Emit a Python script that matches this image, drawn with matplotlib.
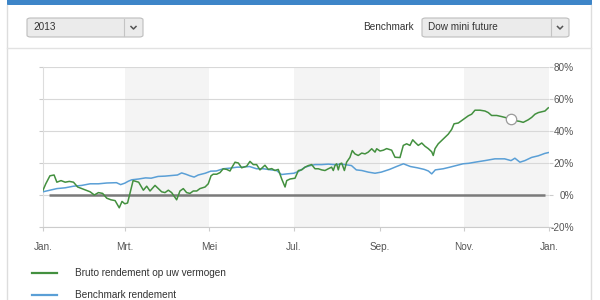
import matplotlib
matplotlib.use("Agg")
import matplotlib.pyplot as plt
from matplotlib.patches import FancyBboxPatch, Rectangle
from matplotlib.lines import Line2D

plt.rcParams['font.family'] = ['Liberation Sans', 'DejaVu Sans']

# ---- data (day of year 2013, return in %) ----
green_days = [0, 2, 5, 8, 10, 13, 16, 19, 22, 25, 28, 31, 34, 37, 40, 43, 46, 49, 52, 55, 57, 59, 61,
              63, 65, 69, 72.4, 74.8, 77.2, 80.8, 83.2, 85.6, 88, 90.4, 92.8, 96.4, 98.8, 101.2, 103.6,
              106, 108.4, 110.9, 113.2, 116.9, 119.2, 121.2, 122.8, 125.3, 127.7, 130, 132.5, 134.9,
              136.1, 138.5, 140.9, 143.3, 146.9, 149.3, 151.7, 154.1, 156.5, 158.9, 160.1, 162.5, 165,
              167.3, 169.7, 172.2, 174.6, 175.8, 178.2, 181.8, 184.2, 186.6, 189, 191.4, 193.8, 196.2,
              198.6, 201, 203.4, 205.8, 208.2, 209.4, 210.6, 211.8, 213, 214.2, 215.5, 217.4, 219,
              221.4, 223.1, 225, 227.4, 229.9, 232.3, 234.6, 237.1, 239.5, 240.7, 243.1, 245.5, 247.9,
              251.5, 253.9, 257.5, 259.9, 262.3, 264.7, 266.7, 268.3, 270.7, 273.2, 275.5, 277.9,
              280.4, 281.5, 282.8, 285.1, 288.7, 292.3, 294.8, 296.5, 299.6, 302, 304.4, 306.8, 309.2,
              311.6, 315.2, 318.8, 321.2, 323.6, 327.3, 330.9, 334.5, 337.6, 340.4, 344, 346.4, 350,
              352.5, 354.9, 357.3, 359.7, 362.1, 364.5]
green_vals = [3, 7, 12, 12.5, 8, 9, 8, 8.5, 8, 5, 4, 3, 2, 0, 1.5, 1, -2, -3, -3.5, -8, -4, -5.5, -5,
              2, 9, 8, 3, 5.5, 2.5, 6, 4, 2, 1.5, 3, 1.5, -3, 2.5, 4, 1.5,
              1, 2.5, 2.5, 4, 5, 7, 12, 13, 13, 14, 16.4, 16, 15,
              17, 20.5, 20, 17, 18, 21, 19, 19, 15.7, 17.6, 18.6, 16, 16.5,
              15.3, 16, 10, 5, 9, 10, 10.5, 15.3, 15.7, 17.4, 18.4, 19, 16.4,
              16.4, 15.7, 15.3, 16.4, 17.4, 15.3, 18.4, 19.5, 15.7, 19.5, 19.9, 15.3, 20.5,
              23.5, 27.8, 25.7, 24.7, 26.2, 25.7, 26.8, 28.9, 26.8, 28.9, 27.5, 28, 29,
              28, 23.6, 23.4, 31, 32, 31, 34.5, 33, 31, 32.5, 30.5, 29,
              27, 24.7, 29, 32, 35, 38, 41, 44.5, 45, 46.5, 48, 49.5, 50.5,
              53, 53, 52.5, 51.5, 49.7, 49.7, 49, 48.2, 47.6, 46.5, 46, 45.4, 47,
              48.5, 50.5, 51.5, 52, 52.5, 54.5]

blue_days = [0, 5, 10, 16, 22, 28, 34, 40, 46, 53, 56, 59, 61.5, 64, 69, 74, 78, 83, 88, 93, 97, 100,
             103, 106, 109, 112, 117, 121, 125, 130, 135, 140, 143, 149, 154, 159, 163.7, 168.5, 172,
             176, 181, 185, 189, 193, 196.2, 201, 205.8, 210, 215.5, 222.5, 226, 230, 234.6, 239.5,
             244, 250, 255, 260, 265, 270, 275, 278, 280.4, 283, 288.7, 293.5, 298, 303, 307, 311.6,
             318.8, 326, 333, 337.6, 340.4, 344, 347.6, 352.5, 357.3, 362, 364.5]
blue_vals = [2, 3, 4, 4.5, 5.5, 6, 7, 7, 7.5, 7.7, 6.5, 7.4, 8.6, 9.5, 10, 10.7, 10.5, 11.6, 11.8, 12.2,
             12.5, 13.8, 13, 12, 11.2, 12.5, 13.6, 14.9, 15, 16.4, 16.8, 17.4, 17.4, 17.8, 16.4, 16.4,
             15.8, 15.3, 12.8, 13.2, 13.6, 15, 17.4, 18.4, 19, 19, 19.3, 19, 19.3, 18.4, 15.7, 15.3,
             14.3, 13.6, 14.3, 16, 17.8, 19.5, 17.8, 17, 16, 15, 13.2, 15.7, 16.4, 17.4, 18.4, 19.5,
             19.8, 20.5, 21.5, 22.6, 22.6, 21.5, 23, 20.5, 21.5, 23.5, 24.5, 26, 26.5]

hover_day = 337.6
hover_val = 47.6

month_days = [0, 59, 120, 181, 243, 304, 365]
month_labels = ['Jan.', 'Mrt.', 'Mei', 'Jul.', 'Sep.', 'Nov.', 'Jan.']
shade_ranges = [(59, 120), (181, 243), (304, 365)]
y_ticks = [-20, 0, 20, 40, 60, 80]
y_labels = ['-20%', '0%', '20%', '40%', '60%', '80%']

legend_labels = ['Bruto rendement op uw vermogen', 'Benchmark rendement']
year_text = '2013'
bench_label = 'Benchmark'
bench_text = 'Dow mini future'

GREEN = '#43903f'
BLUE = '#5a9fd6'

W, H = 600, 300
fig = plt.figure(figsize=(6, 3), dpi=100)
fig.patch.set_facecolor('white')

def fx(px):
    return px / W

def fy(py):
    return 1 - py / H

# header bar and panel borders
fig.patches.append(Rectangle((fx(7), fy(5)), fx(585), 5 / H, transform=fig.transFigure,
                             facecolor='#3d85c8', edgecolor='none'))
fig.add_artist(Line2D([fx(7), fx(7)], [fy(5), 0], color='#dddddd', lw=1))
fig.add_artist(Line2D([fx(591), fx(591)], [fy(5), 0], color='#dddddd', lw=1))
fig.add_artist(Line2D([fx(7), fx(591)], [fy(48), fy(48)], color='#e2e2e2', lw=1))

def dropdown(x0, x1, xdiv, text):
    y0, y1 = 18, 37
    box = FancyBboxPatch((fx(x0), fy(y1)), fx(x1 - x0), (y1 - y0) / H,
                         boxstyle='round,pad=0,rounding_size=0.006', transform=fig.transFigure,
                         facecolor='#ebebeb', edgecolor='#bdbdbd', lw=0.8)
    fig.patches.append(box)
    fig.add_artist(Line2D([fx(xdiv), fx(xdiv)], [fy(y0 + 1), fy(y1 - 1)], color='#c4c4c4', lw=0.8))
    cx = (xdiv + x1) / 2
    fig.add_artist(Line2D([fx(cx - 2.5), fx(cx), fx(cx + 2.5)], [fy(26.5), fy(29), fy(26.5)],
                          color='#555555', lw=1.1))
    fig.text(fx(x0 + 6), fy(27.5), text, fontsize=7.2, color='#333333', va='center', ha='left')

dropdown(27, 143, 124, year_text)
fig.text(fx(363), fy(27), bench_label, fontsize=7.2, color='#333333', va='center', ha='left')
dropdown(422, 569, 551, bench_text)

# main chart
ax = fig.add_axes([fx(43), fy(227), fx(549 - 43), (227 - 67) / H])
ax.set_xlim(0, 365)
ax.set_ylim(-20, 80)
for a, b in shade_ranges:
    ax.axvspan(a, b, color='#f4f4f4', lw=0, zorder=0)
ax.set_yticks(y_ticks)
ax.set_yticklabels(y_labels)
ax.yaxis.grid(True, color='#d8d8d8', lw=0.8, zorder=1)
ax.set_xticks(month_days)
ax.set_xticklabels(month_labels)
for s in ['top', 'right']:
    ax.spines[s].set_visible(False)
ax.spines['left'].set_color('#dddddd')
ax.spines['bottom'].set_color('#cccccc')
ax.spines['left'].set_linewidth(0.8)
ax.spines['bottom'].set_linewidth(0.8)
ax.tick_params(axis='x', length=3, color='#cccccc', labelsize=7.2, labelcolor='#555555', pad=8)
ax.tick_params(axis='y', length=3, color='#cccccc', labelsize=7.2, labelcolor='#555555',
               left=True, right=True, labelleft=False, labelright=True, pad=15)
for t in ax.get_yticklabels():
    t.set_ha('right')

ax.plot([4, 362], [0, 0], color='#7a7a7a', lw=1.8, zorder=2, solid_capstyle='butt')
ax.plot(blue_days, blue_vals, color=BLUE, lw=1.1, zorder=3)
ax.plot(green_days, green_vals, color=GREEN, lw=1.1, zorder=4)
ax.plot([hover_day], [hover_val], marker='o', markersize=7.5, markerfacecolor='white',
        markeredgecolor='#999999', markeredgewidth=0.9, zorder=5)

# legend
for (yy, col, lab) in [(273, GREEN, legend_labels[0]), (295, BLUE, legend_labels[1])]:
    fig.add_artist(Line2D([fx(32), fx(57)], [fy(yy), fy(yy)], color=col, lw=1.6))
    fig.text(fx(75), fy(yy), lab, fontsize=7.2, color='#333333', va='center', ha='left')

fig.savefig('out.png', dpi=100, facecolor='white')
